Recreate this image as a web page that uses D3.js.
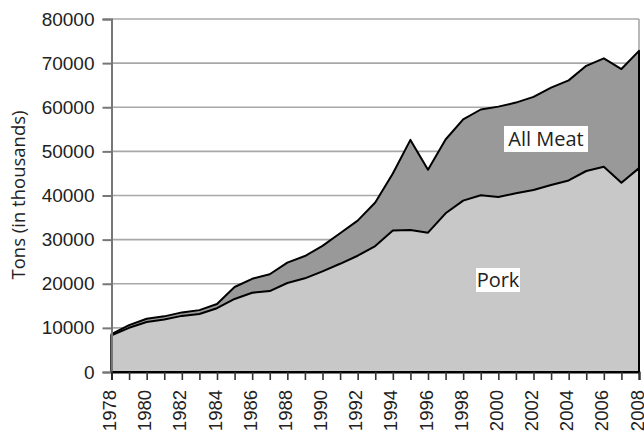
<!DOCTYPE html>
<html>
<head>
<meta charset="utf-8">
<script src="https://cdn.jsdelivr.net/npm/d3@7"></script>
<style>
  html, body { margin: 0; padding: 0; background: #fff; }
  svg { display: block; }
</style>
</head>
<body>
<svg id="chart" width="644" height="433"></svg>
<script>
// Meat output, thousands of tons, 1978-2008
const years = d3.range(1978, 2009);
const allMeat = [8563, 10624, 12054, 12609, 13508, 14021, 15406, 19265, 21124, 22156,
                 24795, 26286, 28570, 31444, 34307, 38415, 44993, 52601, 45840, 52688,
                 57238, 59490, 60139, 61058, 62343, 64433, 66087, 69389, 71089, 68657, 72787];
const pork = [8300, 10014, 11341, 11884, 12718, 13160, 14455, 16547, 17960, 18349,
              20176, 21228, 22811, 24523, 26353, 28544, 32048, 32200, 31580, 35963,
              38837, 40056, 39660, 40517, 41231, 42386, 43410, 45553, 46505, 42878, 46205];
const yTicks = [0, 10000, 20000, 30000, 40000, 50000, 60000, 70000, 80000];
const xLabelYears = d3.range(1978, 2009, 2);

const svg = d3.select("#chart");
const plotLeft = 111.5, plotRight = 639, plotTop = 19, plotBottom = 372;

const x = d3.scaleLinear().domain([1978, 2008]).range([plotLeft, plotRight]);
const y = d3.scaleLinear().domain([0, 80000]).range([plotBottom, plotTop]);

// horizontal gridlines
svg.append("g").selectAll("line").data(yTicks.filter(d => d > 0)).join("line")
  .attr("x1", plotLeft).attr("x2", plotRight)
  .attr("y1", d => y(d)).attr("y2", d => y(d))
  .attr("stroke", "#a8a8a8").attr("stroke-width", 1.6);

// right frame edge
svg.append("line")
  .attr("x1", plotRight).attr("x2", plotRight).attr("y1", plotTop).attr("y2", plotBottom)
  .attr("stroke", "#a8a8a8").attr("stroke-width", 1.6);

// filled area from the baseline; the stroke outlines the whole shape
const areaPath = vals => d3.area()
  .x((d, i) => x(years[i]))
  .y0(y(0))
  .y1(d => y(d))(vals);

svg.append("path")
  .attr("d", areaPath(allMeat))
  .attr("fill", "#999999")
  .attr("stroke", "#000").attr("stroke-width", 2).attr("stroke-linejoin", "round");

svg.append("path")
  .attr("d", areaPath(pork))
  .attr("fill", "#c8c8c8")
  .attr("stroke", "#000").attr("stroke-width", 2).attr("stroke-linejoin", "round");

// y axis
const yAxis = svg.append("g")
  .attr("transform", `translate(${plotLeft},0)`)
  .call(d3.axisLeft(y).tickValues(yTicks).tickSize(9).tickPadding(8).tickFormat(d3.format("d")));
yAxis.select(".domain").attr("stroke", "#777").attr("stroke-width", 2);
yAxis.selectAll(".tick line").attr("stroke", "#777").attr("stroke-width", 2);
yAxis.selectAll(".tick text")
  .attr("font-family", "'Liberation Sans', Arial, sans-serif")
  .attr("font-size", 19).attr("fill", "#222");

// x axis: a tick every year, a label every second year
const xAxis = svg.append("g")
  .attr("transform", `translate(0,${plotBottom})`)
  .call(d3.axisBottom(x).tickValues(years).tickSize(8).tickFormat(""));
xAxis.select(".domain").attr("stroke", "#000").attr("stroke-width", 2);
xAxis.selectAll(".tick line").attr("stroke", "#333").attr("stroke-width", 1.6);

svg.append("g").selectAll("text").data(xLabelYears).join("text")
  .attr("transform", d => `translate(${x(d) + 4.5},${plotBottom + 18}) rotate(-90)`)
  .attr("text-anchor", "end")
  .attr("font-family", "'Liberation Sans', Arial, sans-serif")
  .attr("font-size", 18.5).attr("fill", "#222")
  .text(d => d);

// y title
svg.append("text")
  .attr("transform", "translate(25,195) rotate(-90)")
  .attr("text-anchor", "middle")
  .attr("font-family", "'Open Sans', sans-serif")
  .attr("font-size", 18.5).attr("fill", "#222")
  .text("Tons (in thousands)");

// series labels on white boxes
function boxLabel(cx, cy, w, h, txt) {
  svg.append("rect")
    .attr("x", cx - w / 2).attr("y", cy - h / 2).attr("width", w).attr("height", h)
    .attr("fill", "#fff");
  svg.append("text")
    .attr("x", cx).attr("y", cy + 7)
    .attr("text-anchor", "middle")
    .attr("font-family", "'Open Sans', sans-serif")
    .attr("font-size", 20).attr("fill", "#222")
    .text(txt);
}
boxLabel(546, 139, 84, 26, "All Meat");
boxLabel(498, 280, 44, 24, "Pork");
</script>
</body>
</html>
